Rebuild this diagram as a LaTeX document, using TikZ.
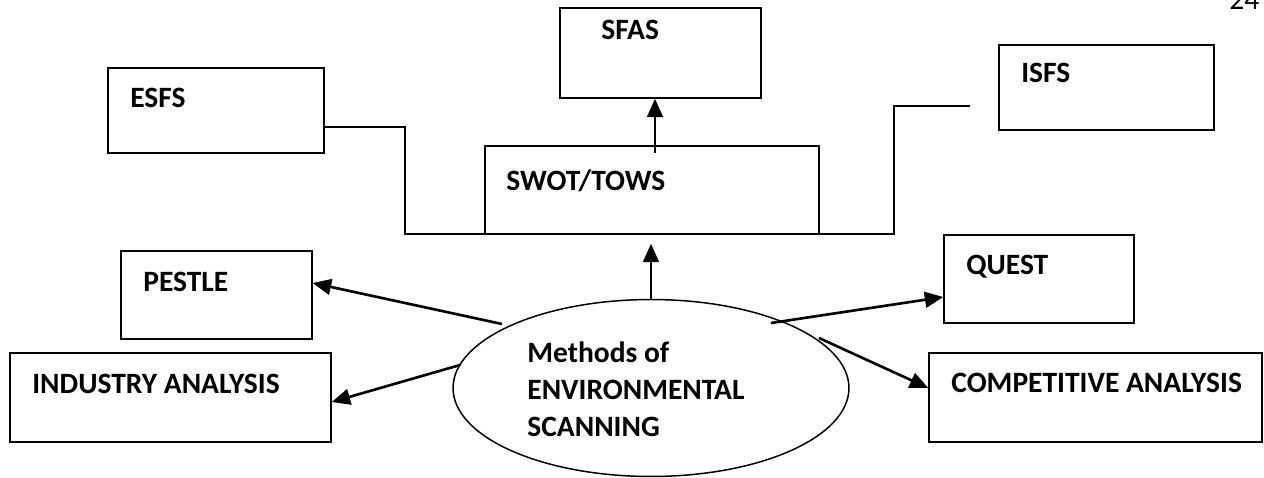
\documentclass[tikz,border=0pt]{standalone}
\usepackage{fontspec}
\setmainfont{Carlito}
\usetikzlibrary{arrows.meta,shapes.geometric,calc}
\begin{document}
\begin{tikzpicture}[x=0.02cm,y=-0.02cm,
  box/.style={draw,line width=0.85pt,inner sep=0pt,rectangle},
  lbl/.style={anchor=west,inner sep=0pt,font=\fontsize{16.8}{20}\selectfont\bfseries,text depth=0pt},
  arr/.style={line width=1.5pt,-{Triangle[length=10.5pt,width=9pt]}},
  conn/.style={line width=0.85pt}]
\useasboundingbox (0,0) rectangle (1264,477);

% page number (cut at top)
\node[anchor=base west,inner sep=0pt,font=\fontsize{16.8}{20}\selectfont] (pg) at (1229,9) {24};

% boxes
\node[box,minimum width=4.02cm,minimum height=1.8cm] (sfas) at (660.5,53) {};
\node[box,minimum width=4.32cm,minimum height=1.7cm] (esfs) at (216,110.5) {};
\node[box,minimum width=4.3cm,minimum height=1.7cm] (isfs) at (1106.5,87.5) {};
\node[box,minimum width=6.68cm,minimum height=1.76cm] (swot) at (652,190) {};
\node[box,minimum width=3.82cm,minimum height=1.76cm] (pestle) at (216.5,295) {};
\node[box,minimum width=6.42cm,minimum height=1.78cm] (industry) at (170.5,397.5) {};
\node[box,minimum width=3.8cm,minimum height=1.76cm] (quest) at (1039,279) {};
\node[box,minimum width=6.66cm,minimum height=1.78cm] (comp) at (1095.5,397.5) {};
\node[ellipse,draw,line width=0.85pt,minimum width=7.92cm,minimum height=3.54cm,inner sep=0pt] (ell) at (651,388) {};

% labels
\node[lbl] (tsfas) at (601,30) {SFAS};
\node[lbl] (tesfs) at (130,98) {ESFS};
\node[lbl] (tisfs) at (1021,73) {ISFS};
\node[lbl] (tswot) at (506,180) {SWOT/TOWS};
\node[lbl] (tpestle) at (143,282) {PESTLE};
\node[lbl] (tindustry) at (32,384) {INDUSTRY ANALYSIS};
\node[lbl] (tquest) at (966,265) {QUEST};
\node[lbl] (tcomp) at (951,383) {COMPETITIVE ANALYSIS};
\node[anchor=west,inner sep=0pt,align=left,font=\fontsize{16.8}{21}\selectfont\bfseries] (tell) at (527,389)
  {Methods of\\ENVIRONMENTAL\\SCANNING};

% connector lines
\coordinate (jl) at (405,234);
\coordinate (jr) at (894,234);
\coordinate (isfsend) at (970,106);
\draw[conn] ($(esfs.east)+(0,16.5)$) -| (jl) -- (jr) |- (isfsend);

% arrows
\draw[arr] ($(swot.north)+(3,8)$) -- ($(swot.north |- sfas.south)+(3,0)$);
\draw[arr] (ell.north) -- ($(ell.north |- swot.south)+(0,9)$);
\coordinate (sp) at (502,324);
\coordinate (si) at (460,365);
\coordinate (sq) at (771,323);
\coordinate (sc) at (819,338);
\draw[arr] (sp) -- ($(pestle.east)+(0,-12)$);
\draw[arr] (si) -- ($(industry.east)+(0,4.5)$);
\draw[arr] (sq) -- ($(quest.west)+(0,18)$);
\draw[arr] (sc) -- ($(comp.west)+(0,-9.5)$);
\end{tikzpicture}
\end{document}
